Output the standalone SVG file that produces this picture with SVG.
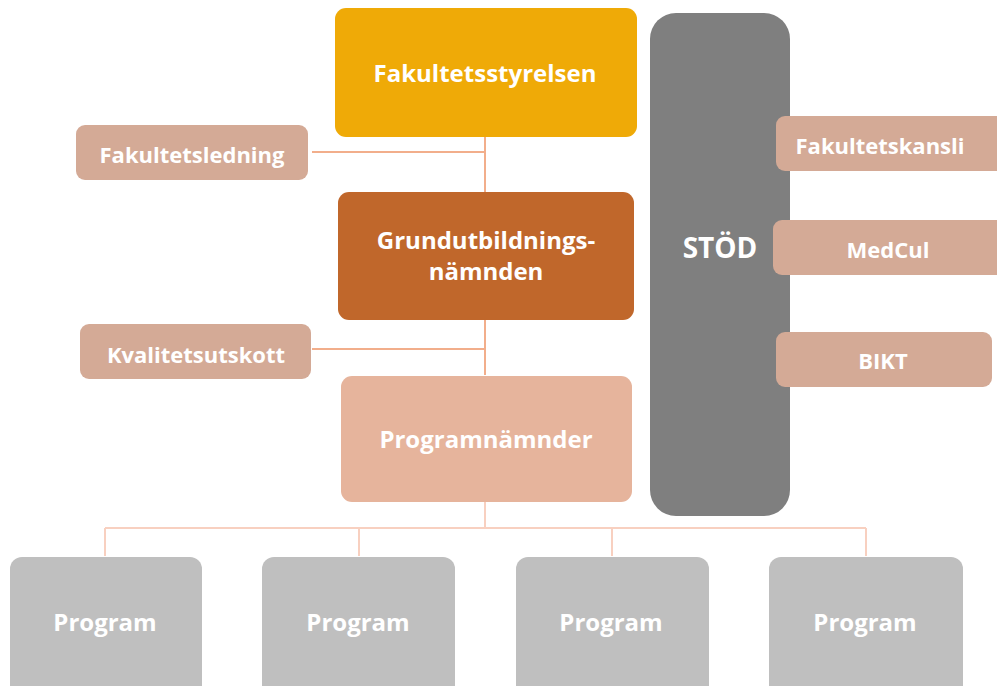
<svg xmlns="http://www.w3.org/2000/svg" width="997" height="686" viewBox="0 0 997 686">
<style>
text{font-family:"Open Sans","Noto Sans",sans-serif;font-weight:700;fill:#fff;text-anchor:middle;dominant-baseline:central}
.big{font-size:24px}
.stod{font-size:28px}
.side{font-size:22px}
.prog{font-size:24px}
.c1{stroke:#F2AE8B;stroke-width:2;fill:none}
.c2{stroke:#F8D0C0;stroke-width:2;fill:none}
.side-box{fill:#D4AA96}
.prog-box{fill:#BFBFBF}
</style>
<rect width="997" height="686" fill="#fff"/>
<g id="connectors">
<path class="c1" d="M485 137V192M312 152H485M485 320V375M312 349H485"/>
<path class="c2" d="M485 502V528M105 528H866M105 528V556M359 528V556M612 528V556M866 528V556"/>
</g>
<g id="stod"><rect x="650" y="13" width="140" height="503" rx="26" fill="#7F7F7F"/><text x="720" y="247" class="stod">STÖD</text></g>
<g id="fakultetsstyrelsen"><rect x="335" y="8" width="302" height="129" rx="11" fill="#EFAA07"/><text x="485" y="72" class="big">Fakultetsstyrelsen</text></g>
<g id="fakultetsledning"><rect class="side-box" x="76" y="125" width="232" height="55" rx="9"/><text x="192" y="154" class="side">Fakultetsledning</text></g>
<g id="grundutbildningsnamnden"><rect x="338" y="192" width="296" height="128" rx="11" fill="#C0672B"/><text x="486" y="239" class="big">Grundutbildnings-</text><text x="486" y="270" class="big">nämnden</text></g>
<g id="kvalitetsutskott"><rect class="side-box" x="80" y="324" width="231" height="55" rx="9"/><text x="196" y="354" class="side">Kvalitetsutskott</text></g>
<g id="programnamnder"><rect x="341" y="376" width="291" height="126" rx="11" fill="#E6B49C"/><text x="486" y="438" class="big">Programnämnder</text></g>
<g id="fakultetskansli"><rect class="side-box" x="776" y="116" width="230" height="55" rx="9"/><text x="880" y="145" class="side">Fakultetskansli</text></g>
<g id="medcul"><rect class="side-box" x="773" y="220" width="233" height="55" rx="9"/><text x="888" y="249" class="side">MedCul</text></g>
<g id="bikt"><rect class="side-box" x="776" y="332" width="216" height="55" rx="9"/><text x="883" y="360" class="side">BIKT</text></g>
<g id="program1"><rect class="prog-box" x="10" y="557" width="192" height="140" rx="12"/><text x="105" y="621" class="prog">Program</text></g>
<g id="program2"><rect class="prog-box" x="262" y="557" width="193" height="140" rx="12"/><text x="358" y="621" class="prog">Program</text></g>
<g id="program3"><rect class="prog-box" x="516" y="557" width="193" height="140" rx="12"/><text x="611" y="621" class="prog">Program</text></g>
<g id="program4"><rect class="prog-box" x="769" y="557" width="194" height="140" rx="12"/><text x="865" y="621" class="prog">Program</text></g>
</svg>
